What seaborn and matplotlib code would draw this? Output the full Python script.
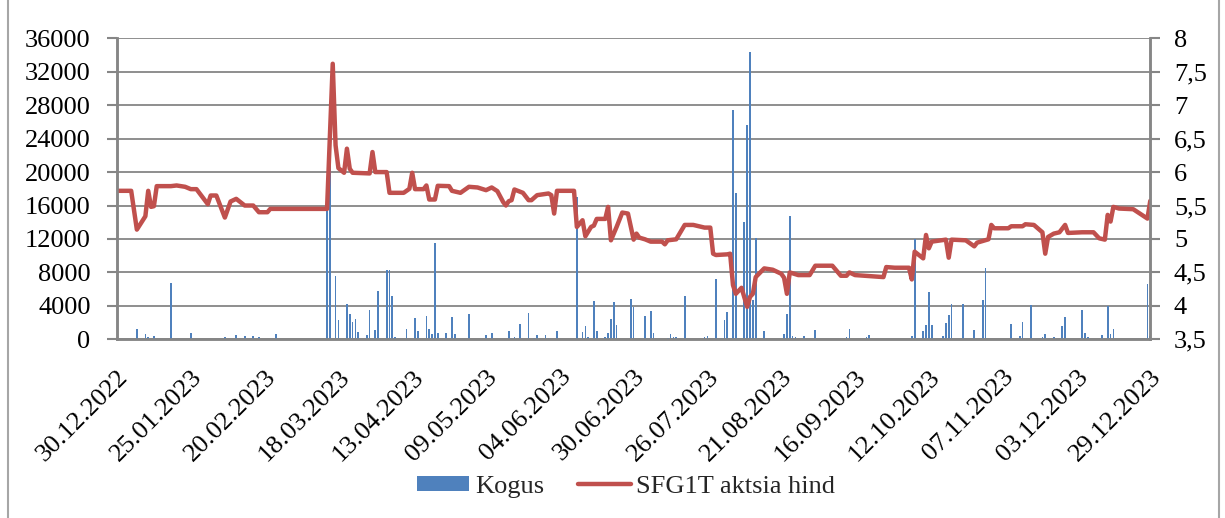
import pandas as pd
import numpy as np
import matplotlib
matplotlib.use("Agg")
import matplotlib.pyplot as plt
import matplotlib.dates as mdates
from matplotlib.patches import Patch
from matplotlib.lines import Line2D
import seaborn as sns

# === ANDMED (loetud graafikult) ===
algus = pd.Timestamp("2022-12-30")

# hinna murdepunktid: päev alates 30.12.2022 ja hind (EUR)
hinna_paev = [0, 5, 7, 10, 11, 12, 13, 14, 19, 21, 24, 26, 28, 32, 33, 35, 38, 40, 42, 45,
              48, 50, 53, 54, 74, 76, 77, 78, 80, 81, 82, 83, 89, 90, 91, 95, 96, 101, 103, 104,
              105, 108, 109, 110, 112, 113, 117, 118, 121, 124, 127, 130, 132, 134, 136, 137, 138, 139, 140, 143,
              145, 146, 148, 152, 153, 154, 155, 161, 162, 164, 165, 167, 168, 169, 172, 173, 174, 176, 178, 180,
              182, 183, 184, 186, 188, 192, 193, 194, 197, 200, 203, 207, 209, 210, 211, 215, 216, 217, 218, 220,
              222, 223, 224, 225, 228, 231, 234, 235, 236, 237, 240, 244, 246, 252, 255, 257, 258, 260, 270, 271,
              274, 279, 280, 281, 284, 285, 286, 287, 292, 293, 294, 299, 302, 303, 307, 308, 309, 314, 315, 319,
              320, 323, 326, 327, 328, 330, 332, 334, 335, 340, 344, 346, 348, 349, 350, 351, 353, 358, 363, 364]
hind = [5.72, 5.72, 5.14, 5.34, 5.72, 5.48, 5.49, 5.79, 5.79, 5.80, 5.78, 5.745, 5.745, 5.52, 5.65, 5.65, 5.32, 5.56, 5.60, 5.50,
        5.50, 5.40, 5.40, 5.45, 5.45, 7.62, 6.40, 6.06, 5.99, 6.35, 6.05, 5.99, 5.98, 6.30, 6.0, 6.0, 5.69, 5.69, 5.75, 5.99,
        5.745, 5.745, 5.80, 5.59, 5.59, 5.795, 5.79, 5.72, 5.69, 5.78, 5.77, 5.73, 5.77, 5.715, 5.555, 5.50, 5.565, 5.58, 5.74, 5.69,
        5.58, 5.58, 5.655, 5.68, 5.655, 5.38, 5.72, 5.72, 5.18, 5.28, 5.04, 5.18, 5.20, 5.30, 5.30, 5.48, 4.98, 5.18, 5.395, 5.38,
        4.99, 5.08, 5.02, 4.995, 4.96, 4.96, 4.92, 4.98, 4.995, 5.21, 5.21, 5.17, 5.17, 4.78, 4.76, 4.77, 4.78, 4.31, 4.18, 4.27,
        3.985, 4.135, 4.18, 4.43, 4.56, 4.54, 4.48, 4.42, 4.18, 4.50, 4.46, 4.46, 4.60, 4.60, 4.45, 4.45, 4.50, 4.46, 4.43, 4.58,
        4.57, 4.57, 4.395, 4.81, 4.71, 5.06, 4.86, 4.96, 4.99, 4.72, 4.99, 4.98, 4.89, 4.945, 4.995, 5.21, 5.16, 5.16, 5.19, 5.19,
        5.22, 5.21, 5.10, 4.78, 5.03, 5.08, 5.10, 5.21, 5.09, 5.10, 5.10, 5.01, 4.99, 5.36, 5.26, 5.48, 5.455, 5.445, 5.305, 5.57]

# tehingute kogused
koguse_paev = [7, 10, 11, 13, 19, 26, 38, 42, 45, 48, 50, 56,
               74, 75, 77, 78, 81, 82, 83, 84, 85, 88, 89, 91, 92, 95, 96, 97, 98, 102,
               105, 106, 109, 110, 111, 112, 113, 116, 118, 119,
               124, 130, 132, 138, 139, 140, 142, 145, 147, 148, 151, 152, 155, 162, 164, 165, 166, 168, 169, 172,
               173, 174, 175, 176, 181, 182,
               186, 188, 189, 194, 195, 196, 197, 200, 207, 208, 211, 213, 214, 215, 217, 218, 221, 222, 223, 224,
               225, 228, 235, 236, 237, 238, 239, 242, 246, 257, 258, 264, 265, 280, 281, 284, 285, 286, 287, 291,
               292, 293, 294, 298, 302, 305, 306, 315, 318, 319, 322, 326, 327, 330, 333, 334, 340, 341, 342, 347,
               349, 350, 351, 363, 364]
kogus = [1240, 680, 280, 360, 6760, 800, 240, 480, 360, 360, 240, 600,
         15500, 24200, 7560, 2280, 4280, 3080, 2080, 2480, 880, 480, 3560, 1160, 5760, 8280, 8280, 5160, 240, 1200,
         2560, 960, 2760, 1240, 600, 11560, 720, 800, 2680, 600,
         3080, 480, 760, 1040, 200, 240, 1880, 3160, 160, 480, 520, 200, 1000, 17050, 880, 1560, 280, 4560, 960, 280,
         800, 2400, 4480, 1680, 4800, 3880,
         2760, 3360, 800, 200, 600, 280, 320, 5160, 320, 400, 7200, 200, 2280, 3280, 27400, 17480, 14000, 25680, 34400, 4680,
         12080, 960, 680, 3080, 14760, 360, 280, 360, 1080, 280, 1200, 280, 520, 400, 11960, 960, 1680, 5600, 1680, 360,
         2000, 2880, 4200, 4280, 1080, 4680, 8480, 1800, 360, 2040, 4080, 240, 680, 240, 1560, 2640, 3480, 800, 240, 480,
         3960, 680, 1280, 6600, 360]

tick_paevad = list(range(0, 365, 26))

hinna_kp = algus + pd.to_timedelta(hinna_paev, unit="D")
koguse_kp = algus + pd.to_timedelta(koguse_paev, unit="D")
tick_kp = algus + pd.to_timedelta(tick_paevad, unit="D")

# === STIIL ===
sns.set_theme(style="white")
plt.rcParams["font.family"] = ["Liberation Serif", "DejaVu Serif"]
plt.rcParams["font.size"] = 19

sinine = "#4F81BD"
punane = "#C0504D"
hall = "#868686"

fig = plt.figure(figsize=(12.25, 5.18), dpi=100)
ax = fig.add_axes([0.0955, 0.345, 0.8435, 0.581])
ax2 = ax.twinx()

# tulbad (kogus)
ax.bar(koguse_kp, kogus, width=0.6, color=sinine, linewidth=0, zorder=3)
ax.set_ylim(0, 36000)
ax.set_yticks(np.arange(0, 36001, 4000))
ax.grid(axis="y", color=hall, linewidth=1.3, zorder=0)
ax.set_axisbelow(True)

# joon (hind)
sns.lineplot(x=hinna_kp, y=hind, ax=ax2, color=punane, linewidth=3.2,
             solid_capstyle="round", solid_joinstyle="round")
ax2.set_ylim(3.5, 8)
ax2.set_yticks(np.arange(3.5, 8.01, 0.5))
ax2.set_yticklabels([f"{v:g}".replace(".", ",") for v in np.arange(3.5, 8.01, 0.5)])
ax2.set_ylabel("")

ax.set_xlim(algus, algus + pd.Timedelta(days=364))
ax.set_xticks(tick_kp)
ax.set_xticklabels([d.strftime("%d.%m.%Y") for d in tick_kp], rotation=45,
                   ha="right", va="top", rotation_mode="anchor")

for a in (ax, ax2):
    for s in a.spines.values():
        s.set_color(hall)
        s.set_linewidth(1.8)
    a.spines["top"].set_visible(False)
    a.tick_params(colors=hall, labelcolor="black", labelsize=19, width=1.5, length=7)

ax.tick_params(axis="y", pad=12)
ax.tick_params(axis="x", pad=12)
ax2.tick_params(axis="y", pad=10)

# legend
kasitsejad = [Patch(facecolor=sinine, edgecolor="none"),
              Line2D([0], [0], color=punane, linewidth=3.2)]
fig.legend(kasitsejad, ["Kogus", "SFG1T aktsia hind"], loc="center", ncol=2,
           bbox_to_anchor=(0.511, 0.06), frameon=False, fontsize=19,
           handlelength=2.0, handleheight=0.5, handletextpad=0.2, columnspacing=1.3)

# raam ümber joonise
fig.add_artist(Line2D([8 / 1225, 8 / 1225], [0, 1], color="#a6a6a6", linewidth=1.5))
fig.add_artist(Line2D([1219 / 1225, 1219 / 1225], [0, 1], color="#a6a6a6", linewidth=1.5))

fig.savefig("out.png", dpi=100)
